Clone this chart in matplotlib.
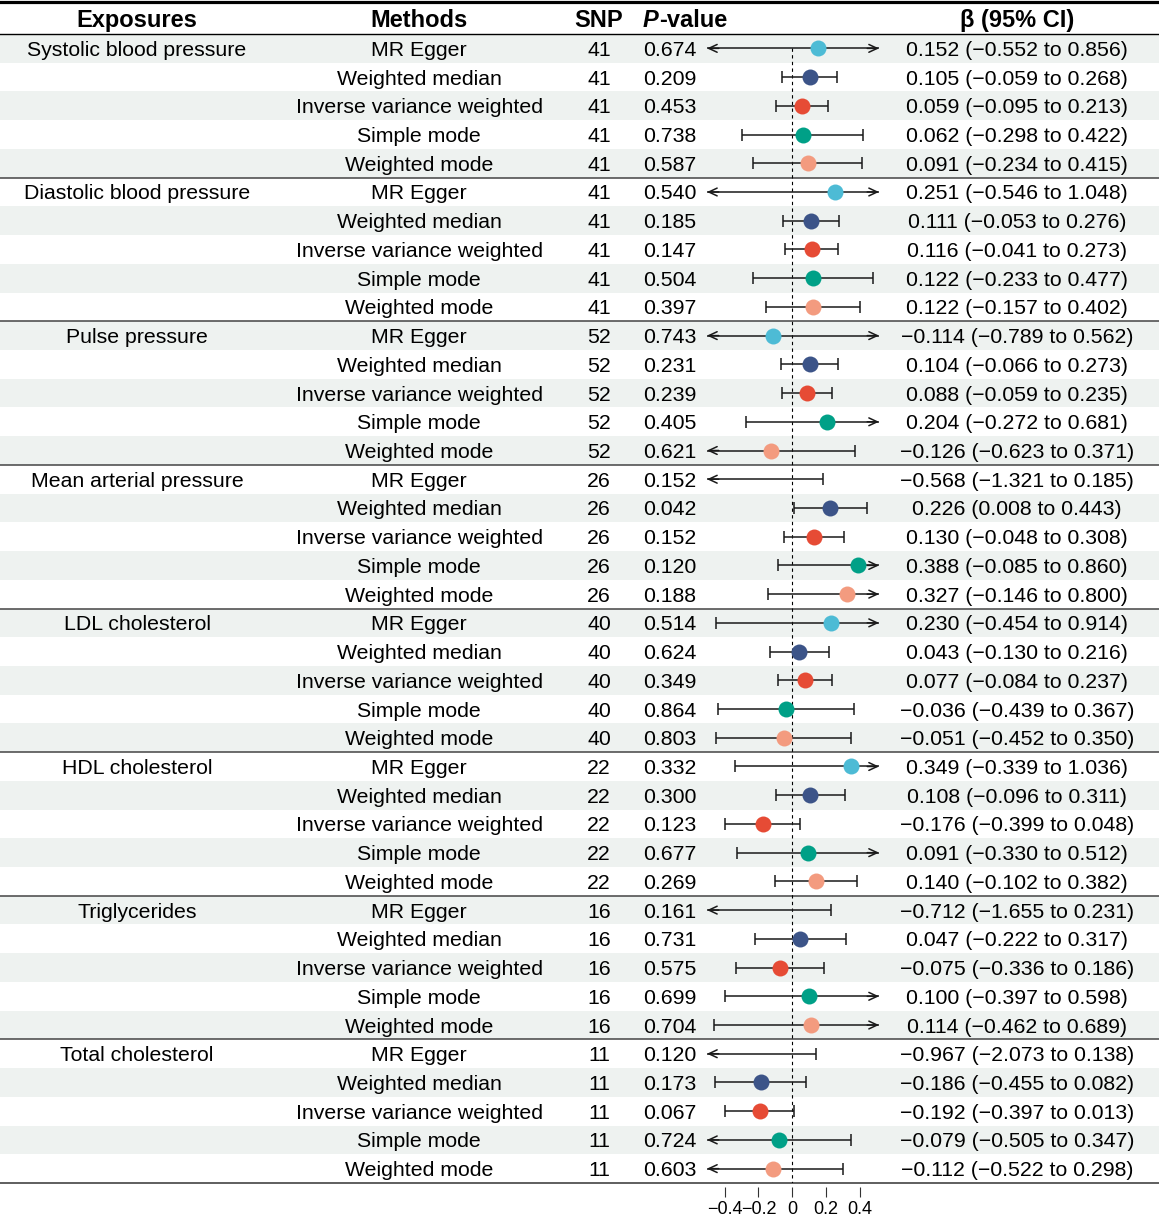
import matplotlib
matplotlib.use("Agg")
import matplotlib.pyplot as plt

plt.rcParams['font.family'] = ['Liberation Sans', 'DejaVu Sans']

exposures = ["Systolic blood pressure", "Diastolic blood pressure", "Pulse pressure",
             "Mean arterial pressure", "LDL cholesterol", "HDL cholesterol",
             "Triglycerides", "Total cholesterol"]
methods = ["MR Egger", "Weighted median", "Inverse variance weighted",
           "Simple mode", "Weighted mode"]
method_colors = ["#4DBBD5", "#3C5488", "#E64B35", "#00A087", "#F39B7F"]
snp = [41, 41, 52, 26, 40, 22, 16, 11]

pvals = [
    [0.674, 0.209, 0.453, 0.738, 0.587],
    [0.540, 0.185, 0.147, 0.504, 0.397],
    [0.743, 0.231, 0.239, 0.405, 0.621],
    [0.152, 0.042, 0.152, 0.120, 0.188],
    [0.514, 0.624, 0.349, 0.864, 0.803],
    [0.332, 0.300, 0.123, 0.677, 0.269],
    [0.161, 0.731, 0.575, 0.699, 0.704],
    [0.120, 0.173, 0.067, 0.724, 0.603],
]
beta = [
    [0.152, 0.105, 0.059, 0.062, 0.091],
    [0.251, 0.111, 0.116, 0.122, 0.122],
    [-0.114, 0.104, 0.088, 0.204, -0.126],
    [-0.568, 0.226, 0.130, 0.388, 0.327],
    [0.230, 0.043, 0.077, -0.036, -0.051],
    [0.349, 0.108, -0.176, 0.091, 0.140],
    [-0.712, 0.047, -0.075, 0.100, 0.114],
    [-0.967, -0.186, -0.192, -0.079, -0.112],
]
ci_low = [
    [-0.552, -0.059, -0.095, -0.298, -0.234],
    [-0.546, -0.053, -0.041, -0.233, -0.157],
    [-0.789, -0.066, -0.059, -0.272, -0.623],
    [-1.321, 0.008, -0.048, -0.085, -0.146],
    [-0.454, -0.130, -0.084, -0.439, -0.452],
    [-0.339, -0.096, -0.399, -0.330, -0.102],
    [-1.655, -0.222, -0.336, -0.397, -0.462],
    [-2.073, -0.455, -0.397, -0.505, -0.522],
]
ci_high = [
    [0.856, 0.268, 0.213, 0.422, 0.415],
    [1.048, 0.276, 0.273, 0.477, 0.402],
    [0.562, 0.273, 0.235, 0.681, 0.371],
    [0.185, 0.443, 0.308, 0.860, 0.800],
    [0.914, 0.216, 0.237, 0.367, 0.350],
    [1.036, 0.311, 0.048, 0.512, 0.382],
    [0.231, 0.317, 0.186, 0.598, 0.689],
    [0.138, 0.082, 0.013, 0.347, 0.298],
]
xticks = [-0.4, -0.2, 0, 0.2, 0.4]
clip = (-0.5, 0.5)        # CI beyond this gets an arrow
xlim = (-0.505, 0.514)    # axis range (arrow tips)

W, H = 1159, 1216
top_px, bot_px = 34, 1183
n_rows = len(exposures) * len(methods)
row_h = (bot_px - top_px) / n_rows


def px_to_row(y):
    # figure pixel (from top) -> row coordinate
    return (y - top_px) / row_h - 0.5


def fmt(v):
    return f"{v:.3f}".replace("-", "\u2212")


fig = plt.figure(figsize=(W / 100, H / 100), dpi=100)
rect_y = 1 - bot_px / H
rect_h = (bot_px - top_px) / H
ax = fig.add_axes([0, rect_y, 1, rect_h])
ax.set_xlim(0, W)
ax.set_ylim(n_rows - 0.5, -0.5)
ax.axis("off")

fs = 15.3
hfs = 17

# stripes
for i in range(0, n_rows, 2):
    ax.axhspan(i - 0.5, i + 0.5, color="#EEF2F0", lw=0, zorder=0)

# header
hy = px_to_row(18)
ax.text(137, hy, "Exposures", ha="center", va="center_baseline", fontsize=hfs, fontweight="bold")
ax.text(419, hy, "Methods", ha="center", va="center_baseline", fontsize=hfs, fontweight="bold")
ax.text(599, hy, "SNP", ha="center", va="center_baseline", fontsize=hfs, fontweight="bold")
tp = ax.text(643, hy, "P", ha="left", va="center_baseline", fontsize=hfs,
             fontweight="bold", fontstyle="italic")
ax.annotate("-value", xy=(1, 0), xycoords=tp, ha="left", va="bottom",
            fontsize=hfs, fontweight="bold")
ax.text(1017, hy, "\u03b2 (95% CI)", ha="center", va="center_baseline", fontsize=hfs, fontweight="bold")

# rule lines
ax.axhline(px_to_row(2), color="black", lw=2.3, clip_on=False)
ax.axhline(-0.5, color="black", lw=1.0, clip_on=False)
ax.axhline(n_rows - 0.5, color="#333333", lw=1.1, clip_on=False)
for g in range(1, len(exposures)):
    ax.axhline(g * len(methods) - 0.5, color="#444444", lw=1.1)

# forest axes
fx0, fx1 = 707, 879
axf = fig.add_axes([fx0 / W, rect_y, (fx1 - fx0) / W, rect_h])
axf.patch.set_alpha(0)
axf.set_xlim(*xlim)
axf.set_ylim(n_rows - 0.5, -0.5)
for s in ["top", "left", "right", "bottom"]:
    axf.spines[s].set_visible(False)
axf.spines["bottom"].set_position(("outward", 3))
axf.set_yticks([])
axf.set_xticks(xticks)
axf.set_xticklabels(["0" if t == 0 else fmt(t).rstrip("0") for t in xticks])
axf.tick_params(axis="x", length=7, width=0.8, color="#333333", pad=3,
                labelsize=13, labelcolor="black")
axf.vlines(0, 0, n_rows - 0.5, colors="black", lw=0.8, linestyles=(0, (3, 3)), zorder=1)

line_c = "#1a1a1a"
arrow = dict(arrowstyle="->,head_length=0.6,head_width=0.28", lw=1.1,
             color=line_c, shrinkA=0, shrinkB=0)
for g, exp in enumerate(exposures):
    for m, meth in enumerate(methods):
        r = g * len(methods) + m
        if m == 0:
            ax.text(137, r, exp, ha="center", va="center_baseline", fontsize=fs)
        ax.text(419, r, meth, ha="center", va="center_baseline", fontsize=fs)
        ax.text(599, r, str(snp[g]), ha="center", va="center_baseline", fontsize=fs)
        ax.text(643, r, f"{pvals[g][m]:.3f}", ha="left", va="center_baseline", fontsize=fs)
        b, lo, hi = beta[g][m], ci_low[g][m], ci_high[g][m]
        ax.text(1017, r, f"{fmt(b)} ({fmt(lo)} to {fmt(hi)})", ha="center",
                va="center_baseline", fontsize=fs)

        left = xlim[0] if lo < clip[0] else lo
        right = xlim[1] if hi > clip[1] else hi
        axf.plot([left, right], [r, r], color=line_c, lw=1.1, zorder=2, solid_capstyle="butt")
        if lo < clip[0]:
            axf.annotate("", xy=(xlim[0], r), xytext=(xlim[0] + 0.07, r),
                         arrowprops=arrow, annotation_clip=False)
        else:
            axf.plot([lo], [r], marker="|", ms=8, mew=1.1, color=line_c, zorder=2)
        if hi > clip[1]:
            axf.annotate("", xy=(xlim[1], r), xytext=(xlim[1] - 0.07, r),
                         arrowprops=arrow, annotation_clip=False)
        else:
            axf.plot([hi], [r], marker="|", ms=8, mew=1.1, color=line_c, zorder=2)
        if clip[0] <= b <= clip[1]:
            axf.plot([b], [r], marker="o", ms=11.5, color=method_colors[m], mew=0, zorder=3)

fig.savefig("out.png", dpi=100)
